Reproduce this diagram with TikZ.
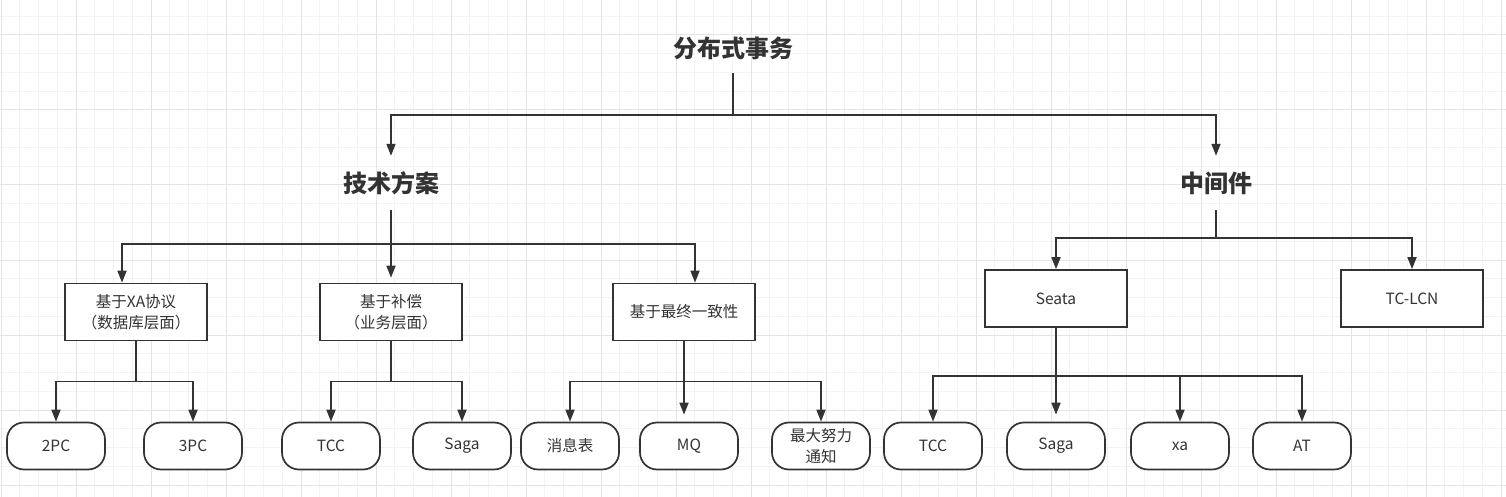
\documentclass[tikz,border=0pt]{standalone}
\usepackage{fontspec}
\setmainfont{Noto Sans CJK SC}
\usetikzlibrary{arrows.meta,calc}
\definecolor{linec}{HTML}{333333}
\definecolor{textc}{HTML}{333333}
\definecolor{gridminor}{HTML}{F3F3F3}
\definecolor{gridmajor}{HTML}{E4E4E4}
\begin{document}
\begin{tikzpicture}[x=1pt,y=-1pt,
  titletext/.style={font=\bfseries\fontsize{24}{28}\selectfont, text=textc, inner sep=0pt, minimum height=54pt, minimum width=100pt},
  bigtitle/.style={font=\bfseries\fontsize{24}{28}\selectfont, text=textc, inner sep=0pt, minimum height=50pt, minimum width=130pt},
  boxnode/.style={draw=linec, line width=1.7pt, fill=white, minimum width=142pt, minimum height=57pt, inner sep=0pt, align=center, text=textc, font=\fontsize{15.5}{21}\selectfont},
  pill/.style={draw=linec, line width=1.7pt, fill=white, minimum width=98pt, minimum height=47pt, inner sep=0pt, rounded corners=17pt, align=center, text=textc, font=\fontsize{15.5}{21}\selectfont},
  conn/.style={draw=linec, line width=1.7pt, -{Triangle[length=12pt,width=9pt]}}
]
\useasboundingbox (0,0) rectangle (1506,497);
\fill[white] (0,0) rectangle (1506,497);
% grid
\foreach \x in {19.75,38.5,...,1506}{\draw[gridminor, line width=1pt] (\x,0) -- (\x,497);}
\foreach \y in {16.25,35,...,497}{\draw[gridminor, line width=1pt] (0,\y) -- (1506,\y);}
\foreach \x in {1,76,...,1506}{\draw[gridmajor, line width=1pt] (\x,0) -- (\x,497);}
\foreach \y in {35,110,...,497}{\draw[gridmajor, line width=1pt] (0,\y) -- (1506,\y);}

% title and level 1
\node[bigtitle] (title) at (733,48) {分布式事务};
\node[titletext] (tech) at (391,183) {技术方案};
\node[titletext] (mid) at (1216,183) {中间件};

% level 2
\node[boxnode] (A) at (136,312) {基于XA协议\\（数据库层面）};
\node[boxnode] (B) at (391,312) {基于补偿\\（业务层面）};
\node[boxnode] (C) at (684,312) {基于最终一致性};
\node[boxnode] (seata) at (1056,298.5) {Seata};
\node[boxnode] (tclcn) at (1412,298.5) {TC-LCN};

% level 3
\node[pill] (p2pc) at (56,446) {2PC};
\node[pill] (p3pc) at (193,446) {3PC};
\node[pill] (tcca) at (331,446) {TCC};
\node[pill] (sagaa) at (462,446) {Saga};
\node[pill] (msg) at (570,446) {消息表};
\node[pill] (mq) at (689,446) {MQ};
\node[pill] (best) at (821,446) {最大努力\\通知};
\node[pill] (tccb) at (933,446) {TCC};
\node[pill] (sagab) at (1056,446) {Saga};
\node[pill] (xa) at (1180,446) {xa};
\node[pill] (at) at (1302,446) {AT};

% connectors: title
\draw[conn] (title.south) -- ++(0,42) -| (tech.north);
\draw[conn] (title.south) -- ++(0,42) -| (mid.north);

% tech
\draw[conn] (tech.south) -- ++(0,34) -| ([xshift=-14pt]A.north);
\draw[conn, shorten >=5pt] (tech.south) -- (B.north);
\draw[conn] (tech.south) -- ++(0,34) -| ([xshift=11pt]C.north);

% middleware
\draw[conn] (mid.south) -- ++(0,28) -| (seata.north);
\draw[conn] (mid.south) -- ++(0,28) -| (tclcn.north);

% A
\draw[conn] (A.south) -- ++(0,40) -| (p2pc.north);
\draw[conn] (A.south) -- ++(0,40) -| (p3pc.north);
% B
\draw[conn] (B.south) -- ++(0,40) -| (tcca.north);
\draw[conn] (B.south) -- ++(0,40) -| (sagaa.north);
% C
\draw[conn] (C.south) -- ++(0,40) -| (msg.north);
\draw[conn, shorten >=7pt] (C.south) -- (C.south |- mq.north);
\draw[conn] (C.south) -- ++(0,40) -| (best.north);
% Seata
\draw[conn] (seata.south) -- ++(0,48) -| (tccb.north);
\draw[conn, shorten >=7pt] (seata.south) -- (sagab.north);
\draw[conn] (seata.south) -- ++(0,48) -| (xa.north);
\draw[conn] (seata.south) -- ++(0,48) -| (at.north);
\end{tikzpicture}
\end{document}
